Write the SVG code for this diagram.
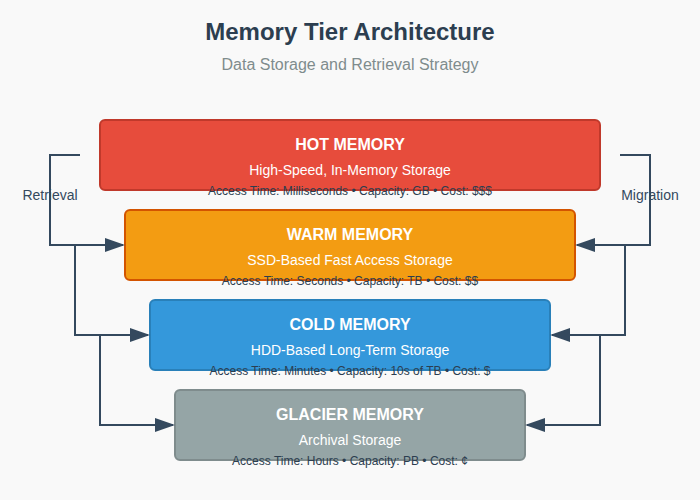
<svg xmlns="http://www.w3.org/2000/svg" width="700" height="500" viewBox="0 0 700 500">
<style>
.title{font-family:"Liberation Sans",Arial,sans-serif;font-size:24px;font-weight:bold;fill:#2c3e50;text-anchor:middle}
.sub{font-family:"Liberation Sans",Arial,sans-serif;font-size:16px;fill:#7f8c8d;text-anchor:middle}
.nt{font-family:"Liberation Sans",Arial,sans-serif;font-size:16px;font-weight:bold;fill:#ffffff;text-anchor:middle}
.ns{font-family:"Liberation Sans",Arial,sans-serif;font-size:14px;fill:#ffffff;text-anchor:middle}
.na{font-family:"Liberation Sans",Arial,sans-serif;font-size:12px;fill:#2c3e50;text-anchor:middle}
.lbl{font-family:"Liberation Sans",Arial,sans-serif;font-size:14px;fill:#34495e;text-anchor:middle}
.box{stroke-width:2}
.conn{fill:none;stroke:#34495e;stroke-width:2}
</style>
<defs>
<marker id="arr" markerWidth="10" markerHeight="7" refX="9" refY="3.5" orient="auto" markerUnits="strokeWidth">
<polygon points="0 0, 10 3.5, 0 7" fill="#34495e"/>
</marker>
</defs>
<rect width="700" height="500" fill="#f9f9f9"/>
<text class="title" x="350" y="40">Memory Tier Architecture</text>
<text class="sub" x="350" y="70">Data Storage and Retrieval Strategy</text>

<g id="hot">
<rect class="box" x="100" y="120" width="500" height="70" rx="5" fill="#e74c3c" stroke="#c0392b"/>
<text class="nt" x="350" y="150">HOT MEMORY</text>
<text class="ns" x="350" y="175">High-Speed, In-Memory Storage</text>
<text class="na" x="350" y="195">Access Time: Milliseconds • Capacity: GB • Cost: $$$</text>
</g>
<g id="warm">
<rect class="box" x="125" y="210" width="450" height="70" rx="5" fill="#f39c12" stroke="#d35400"/>
<text class="nt" x="350" y="240">WARM MEMORY</text>
<text class="ns" x="350" y="265">SSD-Based Fast Access Storage</text>
<text class="na" x="350" y="285">Access Time: Seconds • Capacity: TB • Cost: $$</text>
</g>
<g id="cold">
<rect class="box" x="150" y="300" width="400" height="70" rx="5" fill="#3498db" stroke="#2980b9"/>
<text class="nt" x="350" y="330">COLD MEMORY</text>
<text class="ns" x="350" y="355">HDD-Based Long-Term Storage</text>
<text class="na" x="350" y="375">Access Time: Minutes • Capacity: 10s of TB • Cost: $</text>
</g>
<g id="glacier">
<rect class="box" x="175" y="390" width="350" height="70" rx="5" fill="#95a5a6" stroke="#7f8c8d"/>
<text class="nt" x="350" y="420">GLACIER MEMORY</text>
<text class="ns" x="350" y="445">Archival Storage</text>
<text class="na" x="350" y="465">Access Time: Hours • Capacity: PB • Cost: ¢</text>
</g>

<g id="connectors">
<path class="conn" d="M80 155 H50 V245 H123" marker-end="url(#arr)"/>
<path class="conn" d="M75 245 V335 H148" marker-end="url(#arr)"/>
<path class="conn" d="M100 335 V425 H173" marker-end="url(#arr)"/>
<path class="conn" d="M620 155 H650 V245 H577" marker-end="url(#arr)"/>
<path class="conn" d="M625 245 V335 H552" marker-end="url(#arr)"/>
<path class="conn" d="M600 335 V425 H527" marker-end="url(#arr)"/>
<text class="lbl" x="50" y="200">Retrieval</text>
<text class="lbl" x="650" y="200">Migration</text>
</g>
</svg>
